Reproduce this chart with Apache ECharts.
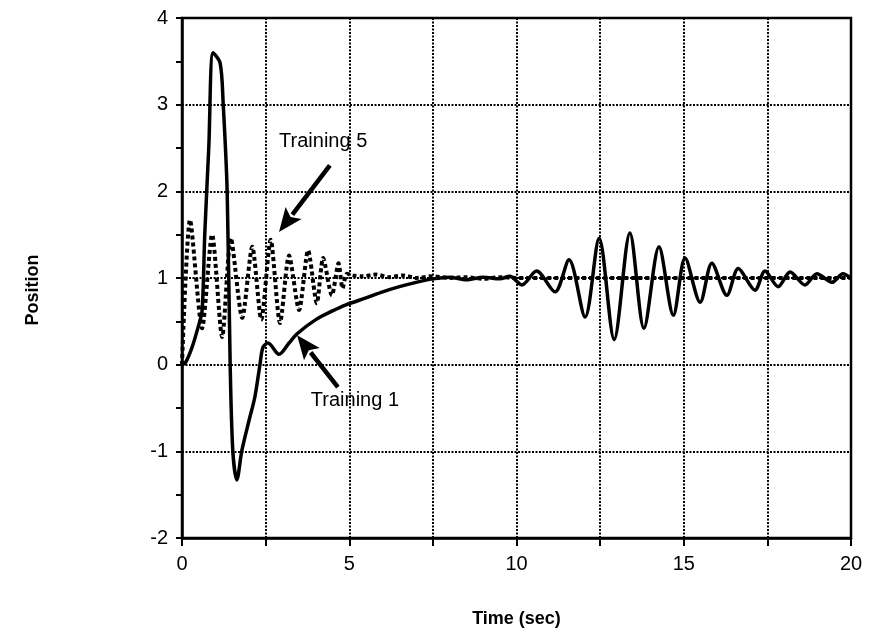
<!DOCTYPE html>
<html>
<head>
<meta charset="utf-8">
<script src="https://cdn.jsdelivr.net/npm/echarts@6/dist/echarts.min.js"></script>
<style>
  html, body { margin: 0; padding: 0; background: #fff; }
  #chart { width: 869px; height: 637px; }
</style>
</head>
<body>
<div id="chart"></div>
<script>
// Step response of the position controller after training runs 1 and 5
var xTicks = [0, 5, 10, 15, 20];
var yTicks = [-2, -1, 0, 1, 2, 3, 4];

// Training 1 (solid): time in seconds and position
var time1 = [0, 0.1, 0.3, 0.48, 0.6, 0.68, 0.8, 0.93, 1.14, 1.23, 1.35, 1.44, 1.52, 1.64, 1.79, 2.0, 2.18, 2.33, 2.42, 2.57,
  2.9, 3.2, 3.45, 4.0, 4.5, 4.9, 5.5, 6.0, 6.5, 7.0, 7.5, 8.0, 8.5, 9.0, 9.5, 9.8,
  10.16, 10.6, 11.15, 11.57, 12.05, 12.47, 12.92, 13.39, 13.81, 14.26, 14.69, 15.04, 15.49, 15.84,
  16.29, 16.63, 17.13, 17.43, 17.82, 18.18, 18.62, 18.98, 19.43, 19.76, 20];
var pos1 = [0, 0.02, 0.2, 0.43, 0.62, 1.5, 2.5, 3.6, 3.48, 3.02, 2.0, 0, -1, -1.33, -0.99, -0.65, -0.37, 0, 0.2, 0.25,
  0.12, 0.25, 0.36, 0.52, 0.62, 0.69, 0.77, 0.84, 0.9, 0.95, 0.99, 1.01, 0.98, 1.01, 0.99, 1.02,
  0.92, 1.08, 0.84, 1.21, 0.55, 1.46, 0.29, 1.52, 0.42, 1.36, 0.57, 1.23, 0.72, 1.17,
  0.80, 1.11, 0.86, 1.08, 0.90, 1.07, 0.92, 1.05, 0.95, 1.05, 1.0];

// Training 5 (dotted): time in seconds and position
var time5 = [0, 0.24, 0.6, 0.9, 1.2, 1.46, 1.8, 2.1, 2.37, 2.65, 2.93, 3.2, 3.5, 3.77, 4.03, 4.22, 4.48, 4.68, 4.8, 4.93,
  5.1, 5.4, 5.8, 6.2, 6.6, 7.0, 7.5, 8.0, 8.5, 9.0, 9.5, 10, 20];
var pos5 = [0, 1.67, 0.42, 1.5, 0.32, 1.46, 0.54, 1.36, 0.52, 1.44, 0.48, 1.26, 0.63, 1.32, 0.71, 1.23, 0.8, 1.17, 0.88, 1.05,
  1.03, 1.02, 1.04, 1.01, 1.03, 1.0, 1.02, 1.0, 1.01, 0.99, 1.01, 1.0, 1.0];

var seriesNames = ['Training 1', 'Training 5'];

var FONT = '"Liberation Sans", Arial, Helvetica, sans-serif';

function pairs(xs, ys) {
  return xs.map(function (x, i) { return [x, ys[i]]; });
}

var gridLine = { show: true, lineStyle: { color: '#000', width: 2, type: [2, 1.5] } };

var chart = echarts.init(document.getElementById('chart'), null, { renderer: 'canvas' });
chart.setOption({
  animation: false,
  backgroundColor: '#fff',
  grid: { left: 182, right: 18, top: 18, bottom: 99, show: true, borderColor: '#000', borderWidth: 2.5, backgroundColor: 'transparent' },
  xAxis: {
    type: 'value', min: xTicks[0], max: xTicks[xTicks.length - 1], interval: 2.5,
    name: 'Time (sec)', nameLocation: 'middle', nameGap: 72,
    nameTextStyle: { fontFamily: FONT, fontSize: 18, fontWeight: 'bold', color: '#000' },
    axisLine: { show: true, onZero: false, lineStyle: { color: '#000', width: 2.5 } },
    axisTick: { show: true, length: 8, lineStyle: { color: '#000', width: 2 } },
    axisLabel: {
      margin: 16, fontFamily: FONT, fontSize: 20, color: '#000',
      formatter: function (v) { return xTicks.indexOf(v) >= 0 ? String(v) : ''; }
    },
    splitLine: gridLine
  },
  yAxis: {
    type: 'value', min: yTicks[0], max: yTicks[yTicks.length - 1], interval: 1,
    name: 'Position', nameLocation: 'middle', nameGap: 140,
    nameTextStyle: { fontFamily: FONT, fontSize: 18, fontWeight: 'bold', color: '#000', padding: [0, 24, 0, 0] },
    axisLine: { show: true, onZero: false, lineStyle: { color: '#000', width: 2.5 } },
    axisTick: { show: true, length: 6, lineStyle: { color: '#000', width: 2 } },
    minorTick: { show: true, splitNumber: 2, length: 6, lineStyle: { color: '#000', width: 2 } },
    axisLabel: { margin: 14, fontFamily: FONT, fontSize: 20, color: '#000' },
    splitLine: gridLine
  },
  series: [
    {
      name: seriesNames[1], type: 'line', data: pairs(time5, pos5), showSymbol: false, smooth: 0.25,
      lineStyle: { color: '#000', width: 4, type: [4, 3] }, z: 3
    },
    {
      name: seriesNames[0], type: 'line', data: pairs(time1, pos1), showSymbol: false, smooth: 0.3,
      lineStyle: { color: '#000', width: 3.5 }, z: 4
    }
  ]
});

// Annotation arrows positioned in data space
function arrow(tail, head) {
  var p0 = chart.convertToPixel({ gridIndex: 0 }, tail);
  var p1 = chart.convertToPixel({ gridIndex: 0 }, head);
  var dx = p1[0] - p0[0], dy = p1[1] - p0[1];
  var len = Math.sqrt(dx * dx + dy * dy);
  var ux = dx / len, uy = dy / len;
  var headLen = 24, headW = 10;
  var bx = p1[0] - ux * headLen, by = p1[1] - uy * headLen;
  return [
    { type: 'line', shape: { x1: p0[0], y1: p0[1], x2: bx + ux * 2, y2: by + uy * 2 }, style: { stroke: '#000', lineWidth: 4.5 }, z: 10 },
    { type: 'polygon', shape: { points: [[p1[0], p1[1]], [bx - uy * headW, by + ux * headW], [bx + ux * 5, by + uy * 5], [bx + uy * headW, by - ux * headW]] }, style: { fill: '#000' }, z: 10 }
  ];
}
function label(text, at) {
  var p = chart.convertToPixel({ gridIndex: 0 }, at);
  return { type: 'text', x: p[0], y: p[1], style: { text: text, fontFamily: FONT, fontSize: 20, fill: '#000', align: 'center', verticalAlign: 'middle' }, z: 10 };
}

var graphics = []
  .concat([label(seriesNames[1], [4.22, 2.57])])
  .concat(arrow([4.42, 2.30], [2.9, 1.53]))
  .concat([label(seriesNames[0], [5.17, -0.41])])
  .concat(arrow([4.66, -0.26], [3.44, 0.34]));
chart.setOption({ graphic: graphics });
</script>
</body>
</html>
